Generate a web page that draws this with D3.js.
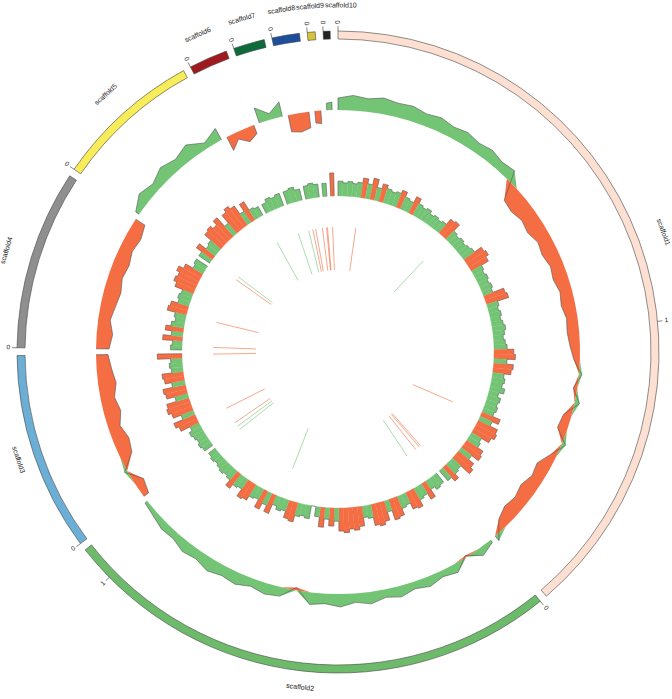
<!DOCTYPE html>
<html>
<head>
<meta charset="utf-8">
<script src="https://cdn.jsdelivr.net/npm/d3@7"></script>
<style>
  body { margin: 0; background: #fff; }
  svg { display: block; }
  text { font-family: "Liberation Sans", Arial, sans-serif; fill: #222; }
</style>
</head>
<body>
<div id="chart"></div>
<script>
// Genome layout
const scaffolds = ['scaffold1', 'scaffold2', 'scaffold3', 'scaffold4', 'scaffold5',
  'scaffold6', 'scaffold7', 'scaffold8', 'scaffold9', 'scaffold10'];
const lengthsKb = [1651, 1077, 426, 385, 314, 83, 67, 59, 17, 15];
const scaffoldColors = ['#fde0d2', '#6dbb6a', '#6baed6', '#8f8f8f', '#f8ec5a',
  '#9e1a1f', '#0b6b3a', '#1c4e9c', '#d5c33a', '#222222'];
const tickMb = [0, 1];

// Middle track: GC skew, one list per scaffold (40 kb windows)
const gcSkew = [
  [0.12, 0.15, 0.13, 0.16, 0.14, 0.15, 0.12, 0.14, 0.11, 0.13, 0.10, 0.12, 0.09, 0.11,
   -0.17, -0.19, -0.16, -0.18, -0.14, -0.16, -0.13, -0.15, -0.12, -0.14, -0.11, -0.12,
   -0.10, -0.06, 0.03, -0.04, 0.05, -0.08, -0.10, 0.04, -0.06, -0.14, -0.12, -0.16,
   -0.13, -0.15, -0.10, 0.06],
  [0.03, 0.08, -0.02, 0.09, 0.06, 0.10, 0.07, 0.11, 0.08, 0.12, 0.09, 0.13, 0.10, 0.12,
   -0.03, 0.09, 0.11, 0.08, 0.12, 0.10, 0.13, 0.09, 0.11, 0.07, 0.08, 0.05, 0.03],
  [-0.06, -0.10, 0.03, -0.13, -0.16, -0.12, -0.17, -0.14, -0.18, -0.15, -0.12],
  [-0.13, -0.16, -0.12, -0.15, -0.17, -0.14, -0.16, -0.13, -0.15, -0.11],
  [0.04, 0.12, 0.08, 0.14, 0.10, 0.15, 0.06, 0.13],
  [-0.15, -0.07, -0.14, -0.09],
  [0.16, 0.06, 0.15],
  [-0.17, -0.19, -0.16],
  [-0.12, -0.13],
  [0.07, 0.08]
];

// Inner track: GC content, one list per scaffold (20 kb windows)
const gcContent = [
  [0.39, 0.38, 0.39, 0.38, 0.39, 0.42, 0.39, 0.43, 0.38, 0.41, 0.39, 0.38, 0.39, 0.41,
   0.38, 0.37, 0.41, 0.38, 0.37, 0.38, 0.36, 0.37, 0.36, 0.37, 0.41, 0.42, 0.37, 0.36,
   0.37, 0.36, 0.37, 0.38, 0.43, 0.44, 0.42, 0.37, 0.36, 0.37, 0.36, 0.37, 0.36, 0.43,
   0.44, 0.37, 0.36, 0.37, 0.36, 0.37, 0.38, 0.37, 0.36, 0.37, 0.38, 0.42, 0.43, 0.38,
   0.42, 0.41, 0.37, 0.38, 0.37, 0.39, 0.36, 0.38, 0.37, 0.38, 0.37, 0.42, 0.38, 0.43,
   0.44, 0.42, 0.37, 0.38, 0.42, 0.43, 0.38, 0.42, 0.44, 0.37, 0.38, 0.41, 0.38],
  [0.37, 0.38, 0.36, 0.41, 0.37, 0.38, 0.42, 0.41, 0.37, 0.38, 0.42, 0.43, 0.37, 0.42,
   0.44, 0.43, 0.38, 0.37, 0.42, 0.44, 0.43, 0.45, 0.44, 0.38, 0.41, 0.37, 0.42, 0.36,
   0.30, 0.38, 0.37, 0.38, 0.42, 0.41, 0.37, 0.38, 0.36, 0.42, 0.38, 0.42, 0.37, 0.38,
   0.41, 0.42, 0.37, 0.38, 0.41, 0.37, 0.36, 0.37, 0.36, 0.35, 0.36, 0.35],
  [0.36, 0.37, 0.36, 0.37, 0.38, 0.36, 0.42, 0.44, 0.38, 0.43, 0.45, 0.44, 0.38, 0.43,
   0.44, 0.38, 0.42, 0.43, 0.37, 0.38, 0.37, 0.45],
  [0.37, 0.36, 0.42, 0.37, 0.41, 0.38, 0.36, 0.37, 0.42, 0.41, 0.37, 0.38, 0.37, 0.42,
   0.44, 0.43, 0.45, 0.42, 0.37, 0.38],
  [0.38, 0.42, 0.37, 0.38, 0.43, 0.44, 0.42, 0.45, 0.38, 0.44, 0.46, 0.44, 0.38, 0.43,
   0.37, 0.36],
  [0.36, 0.38, 0.37, 0.38],
  [0.38, 0.39, 0.37],
  [0.38, 0.39, 0.38],
  [0.38],
  [0.44]
];
const gcThreshold = 0.40;

// Innermost track: feature lines (scaffold index, position kb, type)
const featureScaffold = [4, 6, 6, 7, 7, 7, 8, 8, 9, 0, 0, 4, 4, 3, 3, 2, 2, 2, 2, 1, 1, 0, 0, 0, 1, 1];
const featurePosKb = [310, 5, 64, 3, 19, 56, 3, 8, 2, 97, 510, 27, 8, 153, 16, 422, 117, 26, 2, 1075, 714, 1343, 1640, 1650, 6, 65];
const featureType = ['g', 'g', 'g', 'r', 'r', 'r', 'r', 'r', 'r', 'r', 'g', 'g', 'r', 'r', 'r', 'r', 'r', 'r', 'g', 'g', 'g', 'r', 'r', 'r', 'r', 'g'];

const green = '#74c476';
const red = '#f46d43';

const width = 672;
const height = 699;
const cx = 338, cy = 352;

const svg = d3.select('#chart')
  .append('svg')
  .attr('width', width)
  .attr('height', height);

const g = svg.append('g')
  .attr('transform', `translate(${cx},${cy})`);

// Angular layout of the scaffolds
const gap = 1.4 * Math.PI / 180;
const total = d3.sum(lengthsKb);
const k = (2 * Math.PI - gap * scaffolds.length) / total;
let acc = 0;
const layout = scaffolds.map((name, i) => {
  const a0 = acc;
  const a1 = a0 + lengthsKb[i] * k;
  acc = a1 + gap;
  return {
    name, i, len: lengthsKb[i], a0, a1,
    angle: d3.scaleLinear().domain([0, lengthsKb[i]]).range([a0, a1])
  };
});

const pt = (a, r) => [r * Math.sin(a), -r * Math.cos(a)];
const deg = a => a * 180 / Math.PI;

// Ideogram
const ideoInner = 313, ideoOuter = 321;
const ideoArc = d3.arc().innerRadius(ideoInner).outerRadius(ideoOuter);
g.append('g').selectAll('path')
  .data(layout)
  .join('path')
  .attr('d', d => ideoArc({ startAngle: d.a0, endAngle: d.a1 }))
  .attr('fill', d => scaffoldColors[d.i])
  .attr('stroke', '#444')
  .attr('stroke-width', 0.6);

// Ticks
const ticks = [];
layout.forEach(s => {
  tickMb.forEach(t => {
    if (t * 1000 <= s.len) ticks.push({ a: s.angle(t * 1000), label: String(t) });
  });
});
const tickG = g.append('g');
ticks.forEach(t => {
  const p0 = pt(t.a, ideoOuter), p1 = pt(t.a, ideoOuter + 5);
  tickG.append('line')
    .attr('x1', p0[0]).attr('y1', p0[1])
    .attr('x2', p1[0]).attr('y2', p1[1])
    .attr('stroke', '#333')
    .attr('stroke-width', 0.6);
  const d = deg(t.a);
  const flip = d > 180;
  tickG.append('text')
    .attr('transform', flip
      ? `rotate(${d + 90}) translate(${-(ideoOuter + 7)},0)`
      : `rotate(${d - 90}) translate(${ideoOuter + 7},0)`)
    .attr('text-anchor', flip ? 'end' : 'start')
    .attr('dominant-baseline', 'middle')
    .style('font-size', '6.5px')
    .text(t.label);
});

// Scaffold labels (pushed apart where they would overlap)
const labelR = 347, labelRFlip = 337;
const labels = g.append('g').selectAll('text')
  .data(layout)
  .join('text')
  .attr('text-anchor', 'middle')
  .attr('dy', '0.35em')
  .style('font-size', '7px')
  .text(s => s.name);
const labelW = [];
labels.each(function() { labelW.push(this.getComputedTextLength()); });
const labelAng = layout.map(s => (s.a0 + s.a1) / 2);
for (let i = 1; i < labelAng.length; i++) {
  const minSep = (labelW[i - 1] / 2 + labelW[i] / 2 + 1) / labelR;
  if (labelAng[i] < labelAng[i - 1] + minSep) labelAng[i] = labelAng[i - 1] + minSep;
}
labels.attr('transform', s => {
  const d = deg(labelAng[s.i]);
  const flip = d > 90 && d < 270;
  return flip ? `rotate(${d + 180}) translate(0,${labelRFlip})` : `rotate(${d}) translate(0,${-labelR})`;
});

// Middle track: GC skew areas
const skewR = d3.scaleLinear().domain([-0.2, 0.2]).range([222, 262]);
const r0 = skewR(0);
const skewG = g.append('g');
layout.forEach(s => {
  const vals = gcSkew[s.i];
  const n = vals.length;
  const pts = vals.map((v, j) => ({ a: s.angle(n > 1 ? j * s.len / (n - 1) : 0), v }));
  const full = [{ a: s.a0, v: 0 }, ...pts, { a: s.a1, v: 0 }];
  skewG.append('path')
    .attr('d', d3.areaRadial()
      .angle(d => d.a)
      .innerRadius(r0)
      .outerRadius(d => skewR(Math.max(0, d.v)))(full))
    .attr('fill', green);
  skewG.append('path')
    .attr('d', d3.areaRadial()
      .angle(d => d.a)
      .innerRadius(d => skewR(Math.min(0, d.v)))
      .outerRadius(r0)(full))
    .attr('fill', red);
  skewG.append('path')
    .attr('d', d3.lineRadial()
      .angle(d => d.a)
      .radius(d => skewR(d.v))(full))
    .attr('fill', 'none')
    .attr('stroke', '#555')
    .attr('stroke-width', 0.6);
});

// Inner track: GC content histogram
const gcBase = 156;
const gcR = d3.scaleLinear().domain([0.30, 0.50]).range([gcBase, 189]);
const barArc = d3.arc();
const gcG = g.append('g');
layout.forEach(s => {
  const vals = gcContent[s.i];
  const bw = s.len / vals.length;
  const bins = vals.map((v, j) => ({ a0: s.angle(j * bw), a1: s.angle((j + 1) * bw), v }));
  gcG.append('g').selectAll('path')
    .data(bins)
    .join('path')
    .attr('d', b => barArc({ innerRadius: gcBase, outerRadius: gcR(b.v), startAngle: b.a0, endAngle: b.a1 }))
    .attr('fill', b => b.v >= gcThreshold ? red : green)
    .attr('stroke', b => b.v >= gcThreshold ? red : green)
    .attr('stroke-width', 0.3);
  const p = d3.path();
  bins.forEach((b, j) => {
    const r = gcR(b.v);
    if (j === 0) p.moveTo(...pt(b.a0, gcBase));
    p.lineTo(...pt(b.a0, r));
    p.arc(0, 0, r, b.a0 - Math.PI / 2, b.a1 - Math.PI / 2, false);
  });
  p.lineTo(...pt(bins[bins.length - 1].a1, gcBase));
  gcG.append('path')
    .attr('d', p.toString())
    .attr('fill', 'none')
    .attr('stroke', '#555')
    .attr('stroke-width', 0.5);
});

// Innermost: feature lines
const lineOuter = 125, lineInner = 82;
const featG = g.append('g');
featurePosKb.forEach((pos, i) => {
  const a = layout[featureScaffold[i]].angle(pos);
  const p0 = pt(a, lineOuter), p1 = pt(a, lineInner);
  featG.append('line')
    .attr('x1', p0[0]).attr('y1', p0[1])
    .attr('x2', p1[0]).attr('y2', p1[1])
    .attr('stroke', featureType[i] === 'r' ? red : green)
    .attr('stroke-opacity', 0.6)
    .attr('stroke-width', 1);
});
</script>
</body>
</html>
